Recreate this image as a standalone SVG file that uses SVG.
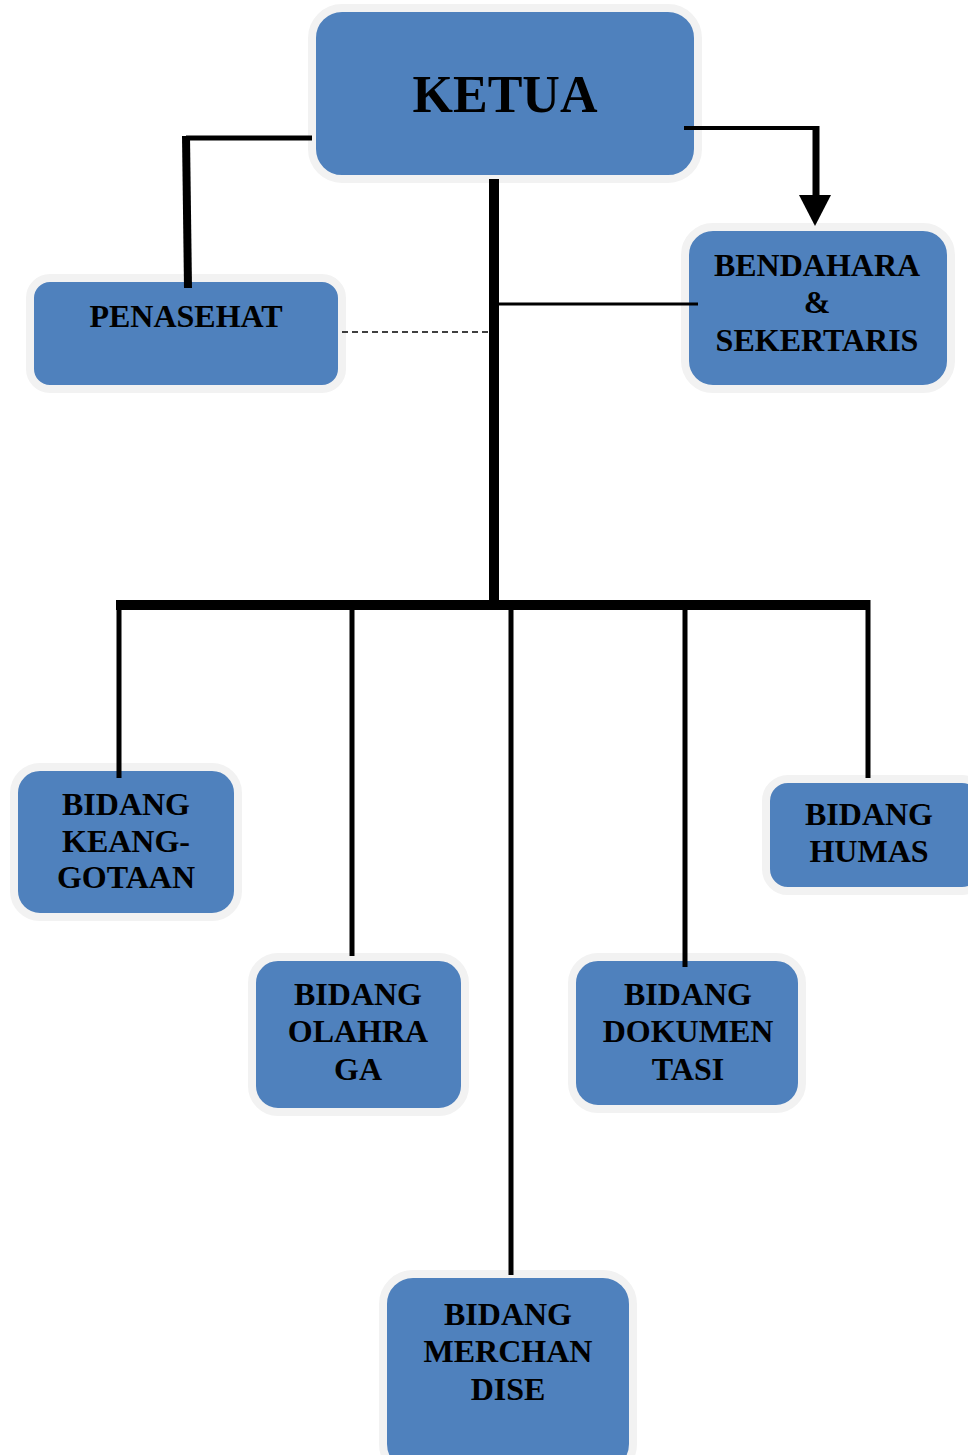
<svg xmlns="http://www.w3.org/2000/svg" width="968" height="1455" viewBox="0 0 968 1455">
<style>
.box{fill:#4F81BD;stroke:#F2F2F2;stroke-width:8}
text{font-family:'Liberation Serif','Times New Roman',Times,serif;font-weight:700;font-size:32px;fill:#000;text-anchor:middle}
.ln{stroke:#000;fill:none}
</style>
<rect width="968" height="1455" fill="#fff"/>
<g id="ketua">
<rect class="box" x="312" y="8" width="386" height="171" rx="30"/>
<text x="505" y="112" style="font-size:52px">KETUA</text>
</g>
<g id="penasehat">
<rect class="box" x="30" y="278" width="312" height="111" rx="20"/>
<text x="186" y="327">PENASEHAT</text>
</g>
<g id="bendahara">
<rect class="box" x="685" y="227" width="266" height="162" rx="28"/>
<text x="817" y="276">BENDAHARA</text>
<text x="817" y="313">&amp;</text>
<text x="817" y="351">SEKERTARIS</text>
</g>
<g id="keanggotaan">
<rect class="box" x="14" y="767" width="224" height="150" rx="26"/>
<text x="126" y="815">BIDANG</text>
<text x="126" y="852">KEANG-</text>
<text x="126" y="888">GOTAAN</text>
</g>
<g id="olahraga">
<rect class="box" x="252" y="957" width="213" height="155" rx="26"/>
<text x="358" y="1005">BIDANG</text>
<text x="358" y="1042">OLAHRA</text>
<text x="358" y="1080">GA</text>
</g>
<g id="merchandise">
<rect class="box" x="383" y="1274" width="250" height="200" rx="30"/>
<text x="508" y="1325">BIDANG</text>
<text x="508" y="1362">MERCHAN</text>
<text x="508" y="1400">DISE</text>
</g>
<g id="dokumentasi">
<rect class="box" x="572" y="957" width="230" height="152" rx="26"/>
<text x="688" y="1005">BIDANG</text>
<text x="688" y="1042">DOKUMEN</text>
<text x="688" y="1080">TASI</text>
</g>
<g id="humas">
<rect class="box" x="766" y="779" width="218" height="112" rx="22"/>
<text x="869" y="825">BIDANG</text>
<text x="869" y="862">HUMAS</text>
</g>
<g id="connectors">
<line class="ln" x1="312" y1="138" x2="186" y2="138" stroke-width="5"/>
<line class="ln" x1="186" y1="136" x2="188" y2="288" stroke-width="8"/>
<line class="ln" x1="684" y1="128" x2="819" y2="128" stroke-width="4"/>
<line class="ln" x1="816" y1="126" x2="816" y2="198" stroke-width="7"/>
<polygon points="799,195 831,195 815,226" fill="#000"/>
<line class="ln" x1="494" y1="179" x2="494" y2="605" stroke-width="10"/>
<line class="ln" x1="499" y1="304" x2="698" y2="304" stroke-width="3"/>
<line class="ln" x1="342" y1="332" x2="489" y2="332" stroke-width="1.5" stroke-dasharray="6,4"/>
<line class="ln" x1="116" y1="605" x2="870" y2="605" stroke-width="10"/>
<line class="ln" x1="119" y1="600" x2="119" y2="778" stroke-width="5"/>
<line class="ln" x1="352" y1="605" x2="352" y2="956" stroke-width="5"/>
<line class="ln" x1="511" y1="605" x2="511" y2="1275" stroke-width="5"/>
<line class="ln" x1="685" y1="605" x2="685" y2="967" stroke-width="5"/>
<line class="ln" x1="868" y1="600" x2="868" y2="778" stroke-width="5"/>
</g>
</svg>
